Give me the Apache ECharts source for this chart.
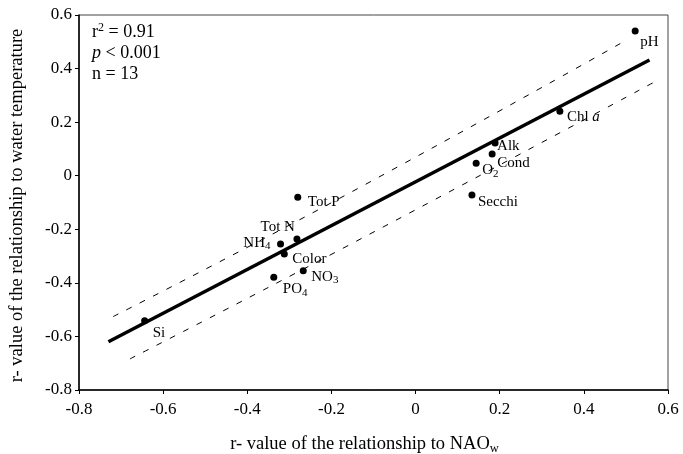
<!DOCTYPE html>
<html><head><meta charset="utf-8">
<script src="https://cdn.jsdelivr.net/npm/echarts@6/dist/echarts.min.js"></script>
<style>html,body{margin:0;padding:0;background:#fff}#c{width:683px;height:454px}</style>
</head><body><div id="c"></div>
<script>
// ---- data ----
const names = ['pH','Chl a','Alk','Cond','O2','Secchi','Tot P','Tot N','NH4','Color','NO3','PO4','Si'];
const naoR  = [0.522, 0.343, 0.189, 0.182, 0.144, 0.134, -0.280, -0.282, -0.321, -0.312, -0.267, -0.337, -0.644];
const tempR = [0.540, 0.241, 0.122, 0.081, 0.047, -0.072, -0.080, -0.236, -0.255, -0.292, -0.355, -0.379, -0.541];
const regX = [-0.730, 0.556];
const regY = [-0.620, 0.432];
const upX = [-0.719, -0.180, 0.494];
const upY = [-0.526, -0.084, 0.500];
const loX = [-0.679, -0.180, 0.569];
const loY = [-0.684, -0.277, 0.351];
const xTicks = [-0.8, -0.6, -0.4, -0.2, 0, 0.2, 0.4, 0.6];
const yTicks = [-0.8, -0.6, -0.4, -0.2, 0, 0.2, 0.4, 0.6];

// ---- label text & layout (not data) ----
const labelText = {'Chl a':'Chl {i|a}','O2':'O{s|2}','NH4':'NH{s|4}','NO3':'NO{s|3}','PO4':'PO{s|4}'};
const labelLayout = {
  'pH':[5,11,'left'],'Chl a':[7,6,'left'],'Alk':[2,3,'left'],'Cond':[5,9,'left'],
  'O2':[6,7,'left'],'Secchi':[6,7,'left'],'Tot P':[10,5,'left'],'Tot N':[-2,-12,'right'],
  'NH4':[-10,-1,'right'],'Color':[8,5,'left'],'NO3':[8,6,'left'],'PO4':[9,12,'left'],'Si':[8,12,'left']
};
const FONT = 'Liberation Serif';
const rich = {
  s:{fontFamily:FONT,fontSize:11,color:'#000',padding:[7,0,0,0]},
  i:{fontFamily:FONT,fontSize:15,color:'#000',fontStyle:'italic'}
};
const SYM = 7;
const pts = names.map((n,k)=>{
  const L = labelLayout[n];
  return {
    value:[naoR[k], tempR[k]],
    label:{
      show:true,
      formatter: labelText[n] || n,
      position:[SYM/2 + L[0], SYM/2 + L[1]],
      align:L[2], verticalAlign:'middle',
      fontFamily:FONT, fontSize:15, color:'#000', textBorderWidth:0, rich:rich
    }
  };
});
const zip = (a,b)=>a.map((v,k)=>[v,b[k]]);

const chart = echarts.init(document.getElementById('c'));
chart.setOption({
  animation:false,
  backgroundColor:'#fff',
  grid:{left:79,right:15,top:15,bottom:64,show:true,borderColor:'#444',borderWidth:1,
    containLabel:false,outerBoundsMode:'none'},
  xAxis:{
    type:'value',min:xTicks[0],max:xTicks[xTicks.length-1],interval:0.2,
    axisLine:{show:true,onZero:false,lineStyle:{color:'#000',width:1.5}},
    axisTick:{show:true,length:4,lineStyle:{color:'#000'}},
    splitLine:{show:false},
    axisLabel:{margin:11,fontFamily:FONT,fontSize:17,color:'#000'},
    name:'r- value of the relationship to NAO{s|w}',
    nameLocation:'middle',nameGap:44,
    nameTextStyle:{fontFamily:FONT,fontSize:18.5,color:'#000',padding:[0,18,0,0],
      rich:{s:{fontFamily:FONT,fontSize:12.5,color:'#000',padding:[8,0,0,0]}}}
  },
  yAxis:{
    type:'value',min:yTicks[0],max:yTicks[yTicks.length-1],interval:0.2,
    axisLine:{show:true,onZero:false,lineStyle:{color:'#000',width:1.5}},
    axisTick:{show:true,length:4,lineStyle:{color:'#000'}},
    splitLine:{show:false},
    axisLabel:{margin:7,fontFamily:FONT,fontSize:17,color:'#000'},
    name:'r- value of the relationship to water temperature',
    nameLocation:'middle',nameGap:52,
    nameTextStyle:{fontFamily:FONT,fontSize:18.5,color:'#000',padding:[0,6,0,0]}
  },
  graphic:[
    {type:'text',x:92,y:32,style:{text:'r{sup|2} = 0.91',fontFamily:FONT,fontSize:18,fill:'#000',verticalAlign:'middle',
      rich:{sup:{fontFamily:FONT,fontSize:12,fill:'#000',padding:[0,0,8,0]}}}},
    {type:'text',x:92,y:53,style:{text:'{i|p} < 0.001',fontFamily:FONT,fontSize:18,fill:'#000',verticalAlign:'middle',
      rich:{i:{fontFamily:FONT,fontSize:18,fontStyle:'italic',fill:'#000'}}}},
    {type:'text',x:92,y:74,style:{text:'n = 13',fontFamily:FONT,fontSize:18,fill:'#000',verticalAlign:'middle'}}
  ],
  series:[
    {type:'line',data:zip(upX,upY),smooth:true,symbol:'none',silent:true,
      lineStyle:{color:'#000',width:1,type:[6,9]}},
    {type:'line',data:zip(loX,loY),smooth:true,symbol:'none',silent:true,
      lineStyle:{color:'#000',width:1,type:[6,9]}},
    {type:'line',data:zip(regX,regY),symbol:'none',silent:true,
      lineStyle:{color:'#000',width:3.5}},
    {type:'scatter',data:pts,symbol:'circle',symbolSize:SYM,itemStyle:{color:'#000',opacity:1},z:5}
  ]
});
</script></body></html>
